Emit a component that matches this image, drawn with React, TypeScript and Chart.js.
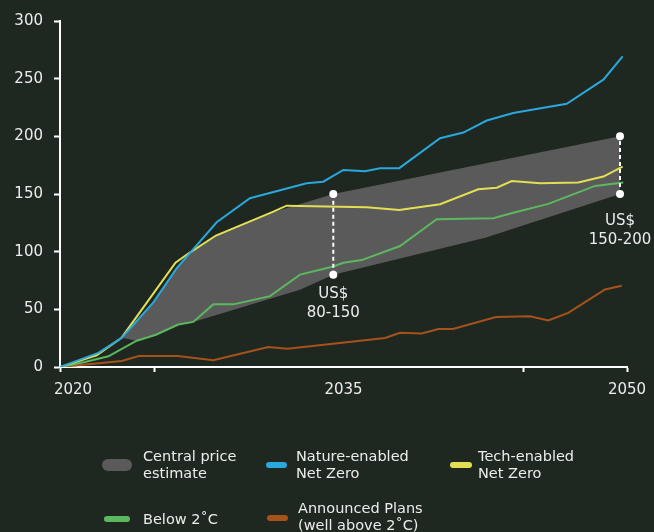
import { useEffect, useRef } from "react";
import { Chart, registerables } from "chart.js";

Chart.register(...registerables);

// Carbon price pathways (US$/tCO2), sampled at the kinks of each scenario line
const natureYears = [2020, 2022.03, 2023.26, 2024.94, 2026.17, 2028.29, 2030.05, 2033.05, 2033.93, 2034.99, 2036.14, 2036.93, 2037.95, 2040.11, 2041.34, 2042.58, 2043.98, 2046.81, 2048.75, 2049.77];
const natureValues = [0, 12.2, 25.2, 56, 85.5, 125.5, 146.3, 159.3, 160.7, 170.9, 169.8, 172.4, 172.4, 198.4, 203.3, 213.7, 220.2, 228.2, 249.1, 269.3];

const techYears = [2020, 2021.94, 2023.26, 2026.11, 2026.83, 2028.25, 2031.29, 2031.99, 2034.81, 2036.23, 2037.95, 2040.11, 2042.13, 2043.11, 2043.9, 2045.4, 2047.42, 2048.75, 2049.77];
const techValues = [0, 10.2, 25.4, 90.5, 98.8, 114, 134.7, 139.9, 139.0, 138.5, 136.1, 141.1, 154.1, 155.5, 161.3, 159.3, 159.9, 165.1, 173.8];

const below2Years = [2020, 2021.32, 2022.56, 2024.06, 2025.08, 2026.26, 2027.05, 2028.11, 2029.17, 2031.11, 2032.7, 2034.46, 2034.99, 2035.96, 2037.99, 2039.93, 2042.93, 2043.98, 2045.84, 2048.31, 2049.8];
const below2Values = [0, 4.3, 9.3, 22.8, 28, 36.8, 39.1, 54.3, 54.3, 61.4, 80.1, 87.2, 90.4, 92.7, 104.9, 128.1, 128.9, 133.8, 141.4, 157, 159.9];

const plansYears = [2020, 2023.26, 2024.18, 2026.22, 2028.11, 2031.02, 2032.04, 2037.2, 2037.99, 2039.14, 2040.02, 2040.79, 2043.07, 2044.87, 2045.84, 2046.89, 2048.84, 2049.72];
const plansValues = [0, 5.2, 9.6, 9.5, 5.8, 17.3, 15.8, 25.2, 29.7, 29, 32.9, 32.9, 43.4, 44, 40.3, 46.9, 67.2, 70.4];

// Central price estimate band: upper and lower edges
const bandUpperYears = [2023.26, 2024.94, 2026.17, 2026.83, 2028.25, 2031.1, 2034.46, 2049.63];
const bandUpperValues = [25.3, 56, 85.5, 98.8, 114, 133.3, 150, 200];
const bandLowerYears = [2023.26, 2024.06, 2025.08, 2026.26, 2027.05, 2032.7, 2034.46, 2042.5, 2049.63];
const bandLowerValues = [25.3, 22.8, 28, 36.8, 39.1, 67, 80, 112, 150];

// Price ranges marked on the band
const rangeYears = [2034.46, 2049.63];
const rangeLows = [80, 150];
const rangeHighs = [150, 200];

// Axis ticks and labels
const yTicks = [0, 50, 100, 150, 200, 250, 300];
const xTickMarks = [2020, 2025, 2044.5, 2050];
const xLabels = [2020, 2035, 2050];

const BG = "#1e2820";
const TEXT = "#ececec";
const BLUE = "#2aa7dd";
const YELLOW = "#e3df55";
const GREEN = "#5cb85f";
const BROWN = "#a8521b";
const GREY = "#5a5a5a";
const FONT = '"DejaVu Sans", sans-serif';

const pts = (xs: number[], ys: number[]) => xs.map((x, i) => ({ x, y: ys[i] }));

const textPlugin = {
  id: "priceText",
  afterDraw(chart: any) {
    const { ctx, chartArea } = chart;
    const x = chart.scales.x;
    const y = chart.scales.y;
    ctx.save();
    ctx.fillStyle = TEXT;
    ctx.font = `15px ${FONT}`;
    ctx.textAlign = "center";
    ctx.textBaseline = "middle";
    xLabels.forEach((yr, i) => {
      const nudge = i === 0 ? 13 : 0;
      ctx.fillText(String(yr), x.getPixelForValue(yr) + nudge, chartArea.bottom + 23);
    });
    rangeYears.forEach((yr, i) => {
      const px = x.getPixelForValue(yr);
      const py = y.getPixelForValue(rangeLows[i]);
      const gap = i === 0 ? 19 : 27;
      ctx.fillText("US$", px, py + gap);
      ctx.fillText(`${rangeLows[i]}-${rangeHighs[i]}`, px, py + gap + 19);
    });
    ctx.restore();
  },
};

function PriceChart() {
  const ref = useRef<HTMLCanvasElement | null>(null);

  useEffect(() => {
    const canvas = ref.current;
    if (!canvas) return;

    const line = (data: any[], color: string) => ({
      data,
      borderColor: color,
      borderWidth: 2,
      pointRadius: 0,
      fill: false,
      tension: 0,
    });

    const bandShape = [
      ...pts(bandUpperYears, bandUpperValues),
      ...pts(bandLowerYears, bandLowerValues).reverse(),
    ];

    const rangeSets = rangeYears.map((yr, i) => ({
      data: [
        { x: yr, y: rangeLows[i] },
        { x: yr, y: rangeHighs[i] },
      ],
      borderColor: "#ffffff",
      borderWidth: 2,
      borderDash: [4, 3],
      pointRadius: 4,
      pointBackgroundColor: "#ffffff",
      pointBorderWidth: 0,
      fill: false,
      order: 0,
    }));

    const chart = new Chart(canvas, {
      type: "line",
      data: {
        datasets: [
          ...rangeSets,
          { ...line(pts(natureYears, natureValues), BLUE), order: 1 },
          { ...line(pts(techYears, techValues), YELLOW), order: 2 },
          { ...line(pts(below2Years, below2Values), GREEN), order: 3 },
          { ...line(pts(plansYears, plansValues), BROWN), order: 4 },
          {
            data: bandShape,
            borderWidth: 0,
            borderColor: GREY,
            backgroundColor: GREY,
            pointRadius: 0,
            fill: "shape",
            tension: 0,
            order: 10,
          },
        ] as any,
      },
      options: {
        responsive: false,
        animation: false,
        devicePixelRatio: 1,
        layout: { padding: { top: 21, right: 27, bottom: 135, left: 0 } },
        plugins: {
          legend: { display: false },
          tooltip: { enabled: false },
        },
        events: [],
        scales: {
          x: {
            type: "linear",
            min: 2020,
            max: 2050,
            afterBuildTicks: (scale: any) => {
              scale.ticks = xTickMarks.map((v) => ({ value: v }));
            },
            afterFit: (scale: any) => {
              scale.height = 30;
            },
            ticks: { callback: () => "" },
            grid: {
              drawOnChartArea: false,
              tickLength: 5,
              tickColor: "#ffffff",
              tickWidth: 2,
            },
            border: { display: true, color: "#ffffff", width: 2 },
          },
          y: {
            type: "linear",
            min: 0,
            max: 300,
            afterBuildTicks: (scale: any) => {
              scale.ticks = yTicks.map((v) => ({ value: v }));
            },
            afterFit: (scale: any) => {
              scale.width = 60;
            },
            ticks: {
              color: TEXT,
              padding: 11,
              font: { family: FONT, size: 15 },
            },
            grid: {
              drawOnChartArea: false,
              tickLength: 6,
              tickColor: "#ffffff",
              tickWidth: 2,
            },
            border: { display: true, color: "#ffffff", width: 2 },
          },
        },
      } as any,
      plugins: [textPlugin],
    });

    return () => chart.destroy();
  }, []);

  return <canvas ref={ref} width={654} height={532} style={{ position: "absolute", left: 0, top: 0 }} />;
}

type LegendItem = {
  lines: string[];
  color: string;
  swatch: [number, number, number, number];
  textLeft: number;
  firstLineY: number;
};

const legendItems: LegendItem[] = [
  { lines: ["Central price", "estimate"], color: GREY, swatch: [102, 459, 30, 12], textLeft: 143, firstLineY: 456 },
  { lines: ["Nature-enabled", "Net Zero"], color: BLUE, swatch: [266, 462, 21, 6], textLeft: 296, firstLineY: 456 },
  { lines: ["Tech-enabled", "Net Zero"], color: YELLOW, swatch: [450, 462, 22, 6], textLeft: 478, firstLineY: 456 },
  { lines: ["Below 2˚C"], color: GREEN, swatch: [104, 516, 26, 6], textLeft: 143, firstLineY: 519 },
  { lines: ["Announced Plans", "(well above 2˚C)"], color: BROWN, swatch: [267, 515, 21, 6], textLeft: 298, firstLineY: 508 },
];

export default function App() {
  useEffect(() => {
    document.body.style.margin = "0";
    document.body.style.background = BG;
  }, []);

  const LINE_H = 17;

  return (
    <div style={{ position: "relative", width: 654, height: 532, background: BG, overflow: "hidden" }}>
      <PriceChart />
      {legendItems.map((item, i) => (
        <div key={i}>
          <div
            style={{
              position: "absolute",
              left: item.swatch[0],
              top: item.swatch[1],
              width: item.swatch[2],
              height: item.swatch[3],
              borderRadius: item.swatch[3] / 2,
              background: item.color,
            }}
          />
          <div
            style={{
              position: "absolute",
              left: item.textLeft,
              top: item.firstLineY - LINE_H / 2,
              fontFamily: FONT,
              fontSize: 14.5,
              lineHeight: `${LINE_H}px`,
              color: TEXT,
              whiteSpace: "nowrap",
            }}
          >
            {item.lines.map((l, j) => (
              <div key={j}>{l}</div>
            ))}
          </div>
        </div>
      ))}
    </div>
  );
}
